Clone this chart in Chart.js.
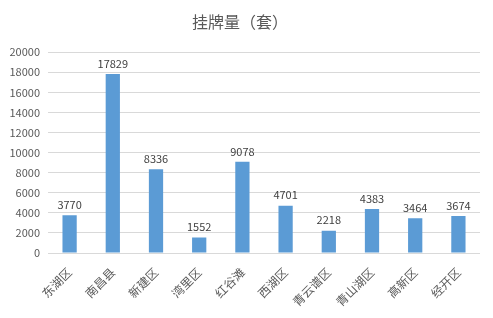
<!DOCTYPE html>
<html lang="zh">
<head>
  <meta charset="UTF-8" />
  <title>挂牌量（套）</title>
  <script src="https://cdn.jsdelivr.net/npm/chart.js"></script>
  <style>
    body {
      margin: 0;
      background-color: #fff;
    }
    #wrap {
      width: 493px;
      height: 318px;
      position: relative;
    }
  </style>
</head>
<body>
  <div id="wrap"><canvas id="myChart"></canvas></div>

  <script>
    const districts = ['东湖区', '南昌县', '新建区', '湾里区', '红谷滩', '西湖区', '青云谱区', '青山湖区', '高新区', '经开区'];
    const listings = [3770, 17829, 8336, 1552, 9078, 4701, 2218, 4383, 3464, 3674];
    const yTicks = [0, 2000, 4000, 6000, 8000, 10000, 12000, 14000, 16000, 18000, 20000];

    const fontFamily = '"Noto Sans CJK SC", "Microsoft YaHei", sans-serif';

    // values above each bar
    const barValues = {
      id: 'barValues',
      afterDatasetsDraw(chart) {
        const ctx = chart.ctx;
        const meta = chart.getDatasetMeta(0);
        ctx.save();
        ctx.font = '11px ' + fontFamily;
        ctx.fillStyle = '#404040';
        ctx.textAlign = 'center';
        ctx.textBaseline = 'bottom';
        meta.data.forEach((bar, i) => {
          ctx.fillText(listings[i], bar.x, bar.y - 5);
        });
        ctx.restore();
      }
    };

    new Chart(document.getElementById('myChart'), {
      type: 'bar',
      data: {
        labels: districts,
        datasets: [{
          data: listings,
          backgroundColor: '#5b9bd5',
          categoryPercentage: 1,
          barPercentage: 0.33
        }]
      },
      options: {
        responsive: true,
        maintainAspectRatio: false,
        animation: false,
        layout: {
          padding: { left: 0, right: 13, top: 0, bottom: 0 }
        },
        plugins: {
          legend: { display: false },
          tooltip: { enabled: false },
          title: {
            display: true,
            text: '挂牌量（套）',
            color: '#595959',
            font: { family: fontFamily, size: 16, weight: 'normal' },
            padding: { top: 12, bottom: 21 }
          }
        },
        scales: {
          x: {
            grid: { display: false },
            border: { display: false },
            ticks: {
              color: '#595959',
              font: { family: fontFamily, size: 12 },
              minRotation: 45,
              maxRotation: 45,
              autoSkip: false,
              padding: 4
            },
            afterFit(scale) { scale.height = 65; }
          },
          y: {
            min: 0,
            max: 20000,
            afterBuildTicks(scale) {
              scale.ticks = yTicks.map(v => ({ value: v }));
            },
            grid: { color: '#d9d9d9', drawTicks: false },
            border: { display: false },
            ticks: {
              color: '#595959',
              font: { family: fontFamily, size: 11 },
              padding: 8,
              callback: v => String(v)
            },
            afterFit(scale) { scale.width = 48; }
          }
        }
      },
      plugins: [barValues]
    });
  </script>
</body>
</html>
